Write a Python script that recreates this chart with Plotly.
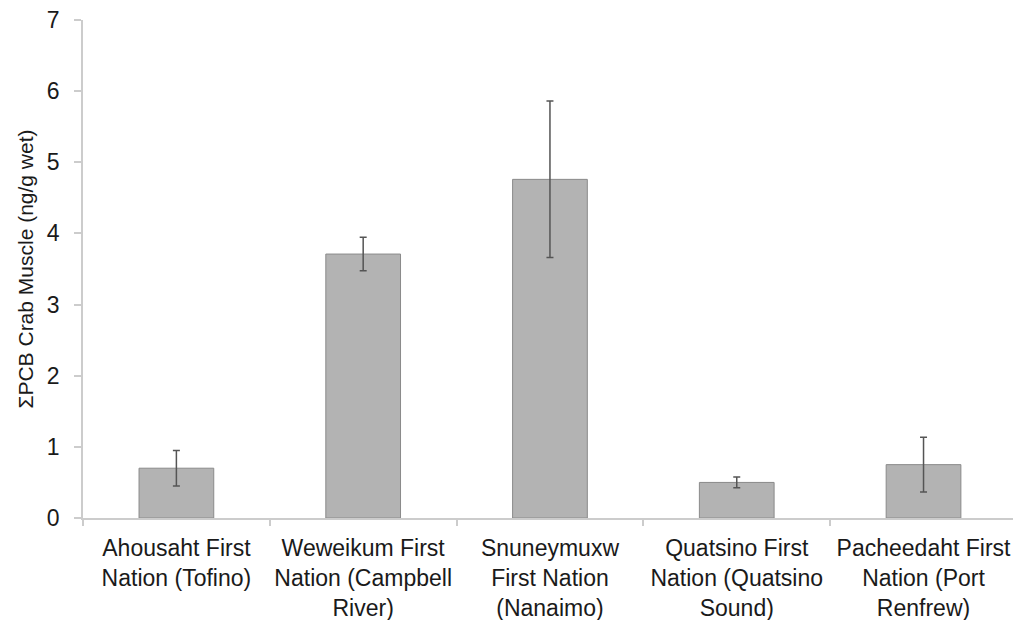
import plotly.graph_objects as go

categories = [
    "Ahousaht First<br>Nation (Tofino)",
    "Weweikum First<br>Nation (Campbell<br>River)",
    "Snuneymuxw<br>First Nation<br>(Nanaimo)",
    "Quatsino First<br>Nation (Quatsino<br>Sound)",
    "Pacheedaht First<br>Nation (Port<br>Renfrew)",
]
means = [0.70, 3.71, 4.76, 0.50, 0.75]
errors = [0.25, 0.235, 1.10, 0.075, 0.385]
y_ticks = [0, 1, 2, 3, 4, 5, 6, 7]

font_family = "Liberation Sans, Arial, Helvetica, sans-serif"

fig = go.Figure()
fig.add_trace(go.Bar(
    x=categories,
    y=means,
    marker=dict(color="#b3b3b3", line=dict(color="#8a8a8a", width=1)),
    error_y=dict(type="data", array=errors, visible=True,
                 color="#555555", thickness=1.5, width=3.5),
))

fig.update_layout(
    width=1013, height=620,
    margin=dict(l=83, r=0, t=20, b=102),
    paper_bgcolor="white", plot_bgcolor="white",
    bargap=0.6,
    showlegend=False,
    font=dict(family=font_family, size=22, color="#1a1a1a"),
)
fig.update_xaxes(
    type="category",
    range=[-0.5, 4.479],
    showline=True, linecolor="#cccccc", linewidth=1.5,
    ticks="outside", tickson="boundaries", ticklen=6, tickcolor="#cccccc", tickwidth=1.5,
    showgrid=False, zeroline=False,
    tickfont=dict(size=23, color="#1a1a1a"),
    tickangle=0,
    ticklabelstandoff=9,
)
fig.update_yaxes(
    range=[0, 7],
    tickvals=y_ticks,
    showline=True, linecolor="#cccccc", linewidth=1.5,
    ticks="outside", ticklen=7, tickcolor="#cccccc", tickwidth=1.5,
    showgrid=False, zeroline=False,
    tickfont=dict(size=23, color="#1a1a1a"),
    ticklabelstandoff=10,
    title=dict(text="ΣPCB Crab Muscle (ng/g wet)", font=dict(size=21, color="#1a1a1a"), standoff=8),
)

fig.write_html("out.html")
